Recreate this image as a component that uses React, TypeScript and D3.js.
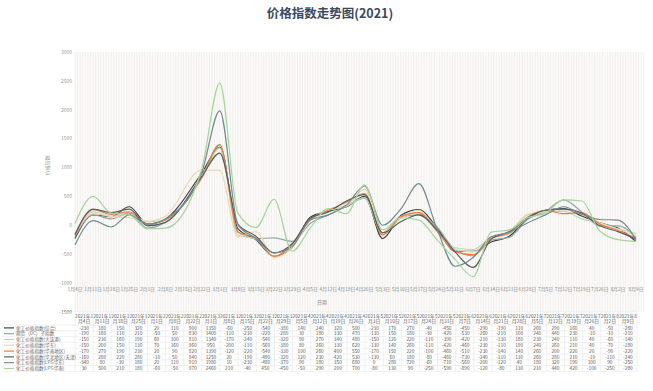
import React from "react";
import * as d3 from "d3";

const dates = ["2021-01-04","2021-01-11","2021-01-18","2021-01-25","2021-02-01","2021-02-08","2021-02-22","2021-03-01","2021-03-08","2021-03-15","2021-03-22","2021-03-29","2021-04-05","2021-04-12","2021-04-19","2021-04-26","2021-05-03","2021-05-10","2021-05-17","2021-05-24","2021-05-31","2021-06-07","2021-06-14","2021-06-21","2021-06-28","2021-07-05","2021-07-12","2021-07-19","2021-07-26","2021-08-02","2021-08-09"];

const seriesNames = [
  "化工价格指数(综合)",
  "期货（DC）子指数",
  "化工价格指数(大连港)",
  "化工价格指数(华东)",
  "化工价格指数(华南地区)",
  "化工价格指数(华北地区/天津)",
  "化工价格指数(LPG华东)",
  "化工价格指数(LPG华南)",
];

const s1 = [-230,180,150,320,20,110,900,1350,-60,-250,-540,-380,140,240,320,500,-230,170,270,-40,-450,-450,-290,-190,110,260,290,160,40,-50,-280];
const s2 = [-190,180,110,210,-50,50,830,1400,-110,-230,-220,-280,30,180,330,470,-130,150,180,-30,-420,-530,-260,-210,100,240,440,230,-10,-10,-210];
const s3 = [-150,230,160,190,60,100,810,1340,-170,-240,-540,-320,90,270,340,480,-150,120,220,-110,-390,-420,-210,-130,180,230,240,110,40,-60,-140];
const s4 = [-150,200,150,130,70,160,960,950,-200,-110,-560,-380,80,260,330,620,-130,140,260,-110,-420,-460,-230,-110,190,240,260,210,40,-70,-180];
const s5 = [-170,270,190,230,20,90,820,1390,-120,-220,-540,-330,100,260,400,550,-170,150,220,-100,-460,-510,-230,-140,140,260,200,220,20,-90,-220];
const s6 = [-160,280,220,280,-10,50,840,1250,20,-190,-480,-320,120,230,420,530,-130,60,180,-80,-460,-730,-240,-110,130,260,280,210,-10,-110,-240];
const s7 = [-340,80,-30,180,20,110,910,1980,10,-230,-480,-370,90,180,350,680,0,280,720,-60,-710,-560,-200,-120,40,180,320,190,100,90,-250];
const s8 = [30,500,210,180,-60,-50,970,2460,210,-40,450,-450,-50,290,200,700,-80,130,90,-250,-590,-890,-120,-80,130,210,440,420,-100,-250,-280];

const allSeries = [s1, s2, s3, s4, s5, s6, s7, s8];
const colors = ["#3f4448","#8fa8a3","#b8dbb0","#f2d5b5","#ee7d45","#5a5f62","#738c92","#a6d49c"];
const yTicks = [3000, 2500, 2000, 1500, 1000, 500, 0, -500, -1000];

const W = 653, H = 391;
const FONT = "'Noto Sans CJK SC', 'Noto Sans', sans-serif";

export default function App() {
  const parse = d3.timeParse("%Y-%m-%d");
  const pts = dates.map((d) => parse(d) as Date);
  const x = d3.scaleTime().domain([pts[0], pts[pts.length - 1]]).range([75, 636]);
  const y = d3.scaleLinear().domain([-1000, 3000]).range([283, 52]);
  const weekTicks = d3.timeWeek.every(1)!.range(pts[0], d3.timeDay.offset(pts[pts.length - 1], 1))
    .filter((d) => d.getDay() === 1);
  const mondays = d3.timeMonday.range(pts[0], d3.timeDay.offset(pts[pts.length - 1], 1));
  const days = d3.timeDay.range(pts[0], d3.timeDay.offset(pts[pts.length - 1], 4));
  const line = d3.line<number>()
    .x((_, i) => x(pts[i]))
    .y((v) => y(v))
    .curve(d3.curveMonotoneX);

  const tableLeft = 75, tableRight = 637;
  const colW = (tableRight - tableLeft) / dates.length;
  const headTop = 312, headBottom = 325, rowH = 5.8;
  const fmtHead = (d: Date) => [`${d.getFullYear()}年${d.getMonth() + 1}`, `月${d.getDate()}日`];

  return (
    <svg width={W} height={H} style={{ position: "fixed", left: 0, top: 0, background: "#fff" }} fontFamily={FONT}>
      <rect x={0} y={0} width={W} height={H} fill="#fff" />
      <text x={330} y={18} textAnchor="middle" fontSize={12.5} fontWeight="bold" fill="#3b4a5e">价格指数走势图(2021)</text>

      {/* plot background stripes */}
      <rect x={75} y={52} width={tableRight - 75 + 3} height={312 - 52} fill="#fcfbfa" />
      {days.map((d, i) => (
        <line key={i} x1={x(d)} x2={x(d)} y1={52} y2={312} stroke="#efece8" strokeWidth={0.8} />
      ))}

      {/* y axis */}
      {yTicks.map((t) => (
        <text key={t} x={72} y={y(t) + 1.8} textAnchor="end" fontSize={5} fill="#999">{t}</text>
      ))}
      <text x={72} y={y(-1500) + 1.8} textAnchor="end" fontSize={5} fill="#999">-1500</text>
      <text transform={`translate(49,${y(1000) - 2}) rotate(-90)`} textAnchor="middle" fontSize={5} fill="#999">价格指数</text>

      {/* x axis labels */}
      {mondays.map((d, i) => (
        <text key={i} x={x(d)} y={291} textAnchor="middle" fontSize={4.8} fill="#888">{`${d.getMonth() + 1}月${d.getDate()}日`}</text>
      ))}
      <text x={322} y={304} textAnchor="middle" fontSize={5} fill="#888">日期</text>

      {/* lines */}
      {allSeries.map((s, k) => (
        <path key={k} d={line(s) || ""} fill="none" stroke={colors[k]} strokeWidth={1.2} />
      ))}

      {/* data table */}
      <rect x={0} y={headTop} width={tableRight + 2} height={headBottom - headTop + rowH * 8 + 1} fill="#fff" />
      <text x={72} y={y(-1500) + 1.8} textAnchor="end" fontSize={5} fill="#999">-1500</text>
      {pts.map((d, i) => {
        const cx = tableLeft + colW * (i + 0.5);
        const [l1, l2] = fmtHead(d);
        return (
          <g key={i}>
            <text x={cx} y={headTop + 5.5} textAnchor="middle" fontSize={4.8} fill="#555">{l1}</text>
            <text x={cx} y={headTop + 11} textAnchor="middle" fontSize={4.8} fill="#555">{l2}</text>
          </g>
        );
      })}
      {d3.range(dates.length + 1).map((i) => (
        <line key={i} x1={tableLeft + colW * i} x2={tableLeft + colW * i} y1={headTop} y2={headBottom + rowH * 8}
          stroke="#e2e2e2" strokeWidth={0.5} />
      ))}
      <line x1={tableLeft} x2={tableRight} y1={headTop} y2={headTop} stroke="#e2e2e2" strokeWidth={0.5} />
      {d3.range(9).map((r) => (
        <line key={r} x1={2} x2={tableRight} y1={headBottom + rowH * r} y2={headBottom + rowH * r} stroke="#e2e2e2" strokeWidth={0.5} />
      ))}
      {allSeries.map((s, k) => {
        const ry = headBottom + rowH * k;
        return (
          <g key={k}>
            <line x1={4} x2={14} y1={ry + rowH / 2} y2={ry + rowH / 2} stroke={colors[k]} strokeWidth={1.2} />
            <text x={16} y={ry + rowH / 2 + 1.6} fontSize={4.6} fill="#666">{seriesNames[k]}</text>
            {s.map((v, i) => (
              <text key={i} x={tableLeft + colW * (i + 0.5)} y={ry + rowH / 2 + 1.7} textAnchor="middle" fontSize={4.8} fill="#555">{v}</text>
            ))}
          </g>
        );
      })}
    </svg>
  );
}
